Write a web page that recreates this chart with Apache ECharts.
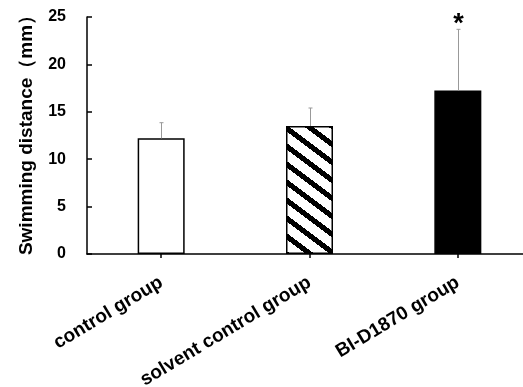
<!DOCTYPE html>
<html>
<head>
<meta charset="utf-8">
<script src="https://cdn.jsdelivr.net/npm/echarts@6/dist/echarts.min.js"></script>
<style>
html,body{margin:0;padding:0;background:#fff;}
#chart{width:523px;height:387px;}
</style>
</head>
<body>
<div id="chart"></div>
<script>
const categories = ['control group', 'solvent control group', 'BI-D1870 group'];
const means = [12.2, 13.5, 17.25];
const errorTops = [13.85, 15.4, 23.7];
const significance = ['', '', '*'];
const yTicks = [0, 5, 10, 15, 20, 25];

// hatch pattern (diagonal stripes)
function makeHatch() {
  const W = 24, H = 18, c = document.createElement('canvas');
  c.width = W; c.height = H;
  const ctx = c.getContext('2d');
  const img = ctx.createImageData(W, H);
  for (let y = 0; y < H; y++) {
    for (let x = 0; x < W; x++) {
      let d = ((y - (H / W) * x) % H + H) % H;
      const black = d < 6.5;
      const i = (y * W + x) * 4;
      const v = black ? 0 : 255;
      img.data[i] = v; img.data[i+1] = v; img.data[i+2] = v; img.data[i+3] = 255;
    }
  }
  ctx.putImageData(img, 0, 0);
  return c;
}
const hatch = makeHatch();

const fills = ['#ffffff', {image: hatch, repeat: 'repeat'}, '#000000'];
const FONT = 'Liberation Sans, Arial, sans-serif';

const chart = echarts.init(document.getElementById('chart'), null, {renderer: 'canvas'});
chart.setOption({
  animation: false,
  backgroundColor: '#fff',
  grid: {left: 87, top: 17, width: 445, bottom: 133, containLabel: false, outerBoundsMode: 'none'},
  xAxis: {
    type: 'category',
    data: categories,
    axisLine: {lineStyle: {color: '#000', width: 1.5}},
    axisTick: {show: true, alignWithLabel: true, inside: false, length: 4, lineStyle: {color: '#000', width: 1.5}},
    axisLabel: {
      rotate: 31, margin: 27, interval: 0,
      fontFamily: FONT, fontWeight: 'bold', fontSize: 19, color: '#000'
    },
    splitLine: {show: false}
  },
  yAxis: {
    type: 'value',
    min: yTicks[0], max: yTicks[yTicks.length - 1], interval: 5,
    name: 'Swimming distance（mm）',
    nameLocation: 'middle', nameRotate: 90, nameGap: 51,
    nameTextStyle: {fontFamily: FONT, fontWeight: 'bold', fontSize: 19, color: '#000', padding: [0, 0, 0, 10]},
    axisLine: {show: true, lineStyle: {color: '#000', width: 1.5}},
    axisTick: {show: true, inside: true, length: 5, lineStyle: {color: '#000', width: 1.5}},
    axisLabel: {margin: 21, fontFamily: FONT, fontWeight: 'bold', fontSize: 16, color: '#000'},
    splitLine: {show: false}
  },
  series: [
    {
      type: 'bar',
      barWidth: 47,
      data: means.map((v, i) => ({
        value: v,
        itemStyle: {color: fills[i], borderColor: '#000', borderWidth: 1.5}
      })),
      z: 2
    },
    {
      type: 'custom',
      z: 3,
      data: means.map((v, i) => [i, v, errorTops[i], significance[i]]),
      renderItem: function (params, api) {
        const base = api.coord([api.value(0), api.value(1)]);
        const top = api.coord([api.value(0), api.value(2)]);
        const x = Math.round(base[0]) + 0.5;
        const children = [
          {type: 'line', shape: {x1: x, y1: base[1], x2: x, y2: top[1]}, style: {stroke: '#999', lineWidth: 1}},
          {type: 'line', shape: {x1: x - 2, y1: top[1], x2: x + 2, y2: top[1]}, style: {stroke: '#999', lineWidth: 1}}
        ];
        const sig = api.value(3);
        if (sig) {
          children.push({
            type: 'text',
            style: {
              text: sig, x: x, y: top[1] - 5,
              align: 'center', verticalAlign: 'middle',
              font: 'bold 27px Liberation Sans, Arial, sans-serif', fill: '#000'
            }
          });
        }
        return {type: 'group', children: children};
      }
    }
  ]
});
</script>
</body>
</html>
